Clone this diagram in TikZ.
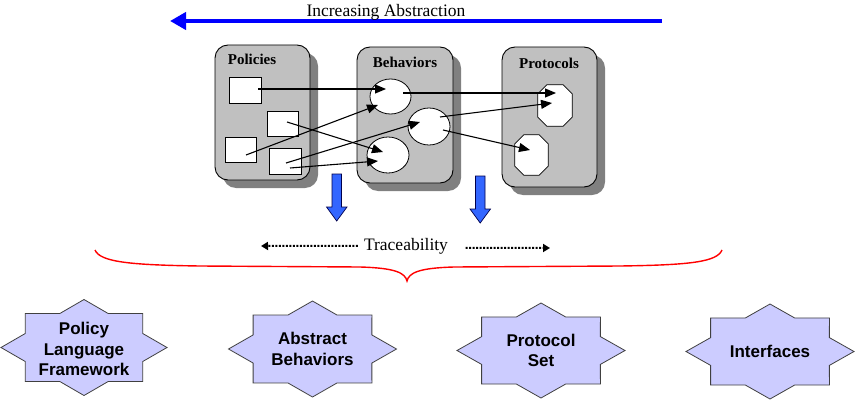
\documentclass[tikz,border=0pt]{standalone}
\usepackage{fontspec}
\setmainfont{Liberation Serif}
\newfontfamily\arialfont{Liberation Sans}
\usetikzlibrary{arrows.meta,calc,shapes.geometric}
\definecolor{boxgray}{HTML}{C0C0C0}
\definecolor{shadowgray}{HTML}{808080}
\definecolor{starfill}{HTML}{CCCCFF}
\definecolor{downblue}{HTML}{3366FF}
\definecolor{pureblue}{HTML}{0000FF}
\definecolor{bracered}{HTML}{FF0000}
\newcommand\eightstar[4]{%
  \draw[starshape] plot[samples at={0,1,...,15}, variable=\k]
    ({#1+#3*(0.8825+0.1175*cos(\k*180))*cos(\k*22.5)},
     {#2+#4*(0.8825+0.1175*cos(\k*180))*sin(\k*22.5)}) -- cycle;}
\newcommand\octo[5]{% name cx cy w h
  \node[inner sep=0, minimum width=#4, minimum height=#5] (#1) at (#2,#3) {};
  \draw[octshape] ([xshift=9pt]#1.north west) -- ([xshift=-9pt]#1.north east)
    -- ([yshift=-9pt]#1.north east) -- ([yshift=9pt]#1.south east)
    -- ([xshift=-9pt]#1.south east) -- ([xshift=9pt]#1.south west)
    -- ([yshift=9pt]#1.south west) -- ([yshift=-9pt]#1.north west) -- cycle;}
\begin{document}
\begin{tikzpicture}[x=1pt,y=-1pt,
  panel/.style={draw=black, fill=boxgray, rounded corners=13pt, line width=0.9pt},
  panelshadow/.style={fill=shadowgray, rounded corners=13pt},
  sqbox/.style={draw=black, fill=white, line width=0.8pt, inner sep=0, minimum width=32pt, minimum height=26pt},
  ellbox/.style={ellipse, draw=black, fill=white, line width=0.8pt, inner sep=0, minimum width=42pt, minimum height=36pt},
  octshape/.style={draw=black, fill=white, line width=0.8pt},
  title/.style={font=\fontsize{15}{17}\selectfont\bfseries, inner sep=0},
  link/.style={-{Triangle[length=11pt,width=9pt]}, line width=1.1pt},
  starshape/.style={draw=black!75, fill=starfill, line width=0.8pt},
  startext/.style={font=\arialfont\fontsize{17}{20.5}\selectfont\bfseries, align=center, inner sep=0},
  downarrow/.style={draw=black!70!blue, fill=downblue, line width=0.7pt},
  dotarrow/.style={line width=2pt, dash pattern=on 2pt off 1.5pt, -{Triangle[length=7pt,width=8pt,sep=0pt]}},
  bigtext/.style={font=\fontsize{17.5}{19}\selectfont, inner sep=0}
]
\useasboundingbox (0,0) rectangle (858,404);

% top abstraction arrow
\coordinate (absR) at (662,21);
\coordinate (absL) at (170,21);
\draw[pureblue, line width=4pt, -{Triangle[length=16pt,width=17pt]}] (absR) -- (absL);
\node[bigtext, anchor=base] (absT) at (386,17) {Increasing Abstraction};

% panels with shadows
\fill[panelshadow] (223,53) rectangle (318,188);
\fill[panelshadow] (365,55) rectangle (461,191);
\fill[panelshadow] (510,55) rectangle (605,195);
\draw[panel] (215,45) rectangle (310,180);
\draw[panel] (357,47) rectangle (453,183);
\draw[panel] (502,47) rectangle (597,187);
\node[title] (tPol) at (252,59) {Policies};
\node[title] (tBeh) at (405,62) {Behaviors};
\node[title] (tPro) at (549,63) {Protocols};

% inner shapes
\node[sqbox] (sq1) at (245,90) {};
\node[sqbox, minimum width=31pt, minimum height=25pt] (sq2) at (282.5,123.5) {};
\node[sqbox, minimum width=31pt, minimum height=25pt] (sq3) at (240.5,149.5) {};
\node[sqbox] (sq4) at (285,161) {};
\node[ellbox, minimum width=41pt, minimum height=35pt] (e1) at (390.5,96.5) {};
\node[ellbox, minimum height=37pt] (e2) at (429,126.5) {};
\node[ellbox] (e3) at (388,155) {};
\octo{o1}{555}{105.5}{34pt}{41pt}
\octo{o2}{531.5}{155}{33pt}{40pt}

% links
\draw[link] ([xshift=13pt,yshift=1pt]sq1.center) -- ([xshift=-4.5pt,yshift=7.5pt]e1.center);
\draw[link] ([xshift=12.5pt,yshift=3.5pt]e1.center) -- ([xshift=1pt,yshift=12.5pt]o1.center);
\draw[link] ([xshift=5.5pt,yshift=-5.5pt]sq3.center) -- ([xshift=-12.5pt,yshift=-8.5pt]e1.center);
\draw[link] ([xshift=4.5pt,yshift=1.5pt]sq2.center) -- ([xshift=-5pt,yshift=3pt]e3.center);
\draw[link] ([xshift=1pt,yshift=-2pt]sq4.center) -- ([xshift=-9pt,yshift=4.5pt]e2.center);
\draw[link] ([xshift=5pt,yshift=-7pt]sq4.center) -- ([xshift=-10pt,yshift=-6pt]e3.center);
\draw[link] ([xshift=11pt,yshift=9.5pt]e2.center) -- ([xshift=-3pt,yshift=2.5pt]o1.center);
\draw[link] ([xshift=14pt,yshift=-3.5pt]e2.center) -- ([xshift=-1.5pt,yshift=5pt]o2.center);

% blue down arrows
\draw[downarrow] (332,174) -- (341.5,174) -- (341.5,207) -- (347,207) -- (336.7,221) -- (326.5,207) -- (332,207) -- cycle;
\draw[downarrow] (475.5,176) -- (485,176) -- (485,209) -- (490.5,209) -- (480.2,223) -- (470,209) -- (475.5,209) -- cycle;

% traceability
\node[bigtext, anchor=base] (trace) at (406,250) {Traceability};
\coordinate (trL) at (261,246);
\coordinate (trR) at (550,248);
\draw[dotarrow] ([xshift=-6pt,yshift=0pt]trace.west) -- (trL);
\draw[dotarrow] ([xshift=17.5pt,yshift=-2pt]trace.east) -- (trR);

% brace
\draw[bracered, line width=1.4pt] (95,250) .. controls (100,262) and (130,265) .. (200,266)
  -- (360,267) .. controls (396,268) and (405,273) .. (407,281)
  .. controls (409,273) and (418,268) .. (454,267)
  -- (620,266) .. controls (690,265) and (717,262) .. (722,250);

% stars
\eightstar{84}{347.5}{83}{48}
\eightstar{312.5}{349}{84}{48}
\eightstar{541}{350.5}{84}{47.5}
\eightstar{770}{351.5}{84}{47.5}
\node[startext] (s1) at (84,349) {Policy\\Language\\Framework};
\node[startext] (s2) at (312.5,349) {Abstract\\Behaviors};
\node[startext] (s3) at (541,350.5) {Protocol\\Set};
\node[startext] (s4) at (770,351.5) {Interfaces};
\end{tikzpicture}
\end{document}
